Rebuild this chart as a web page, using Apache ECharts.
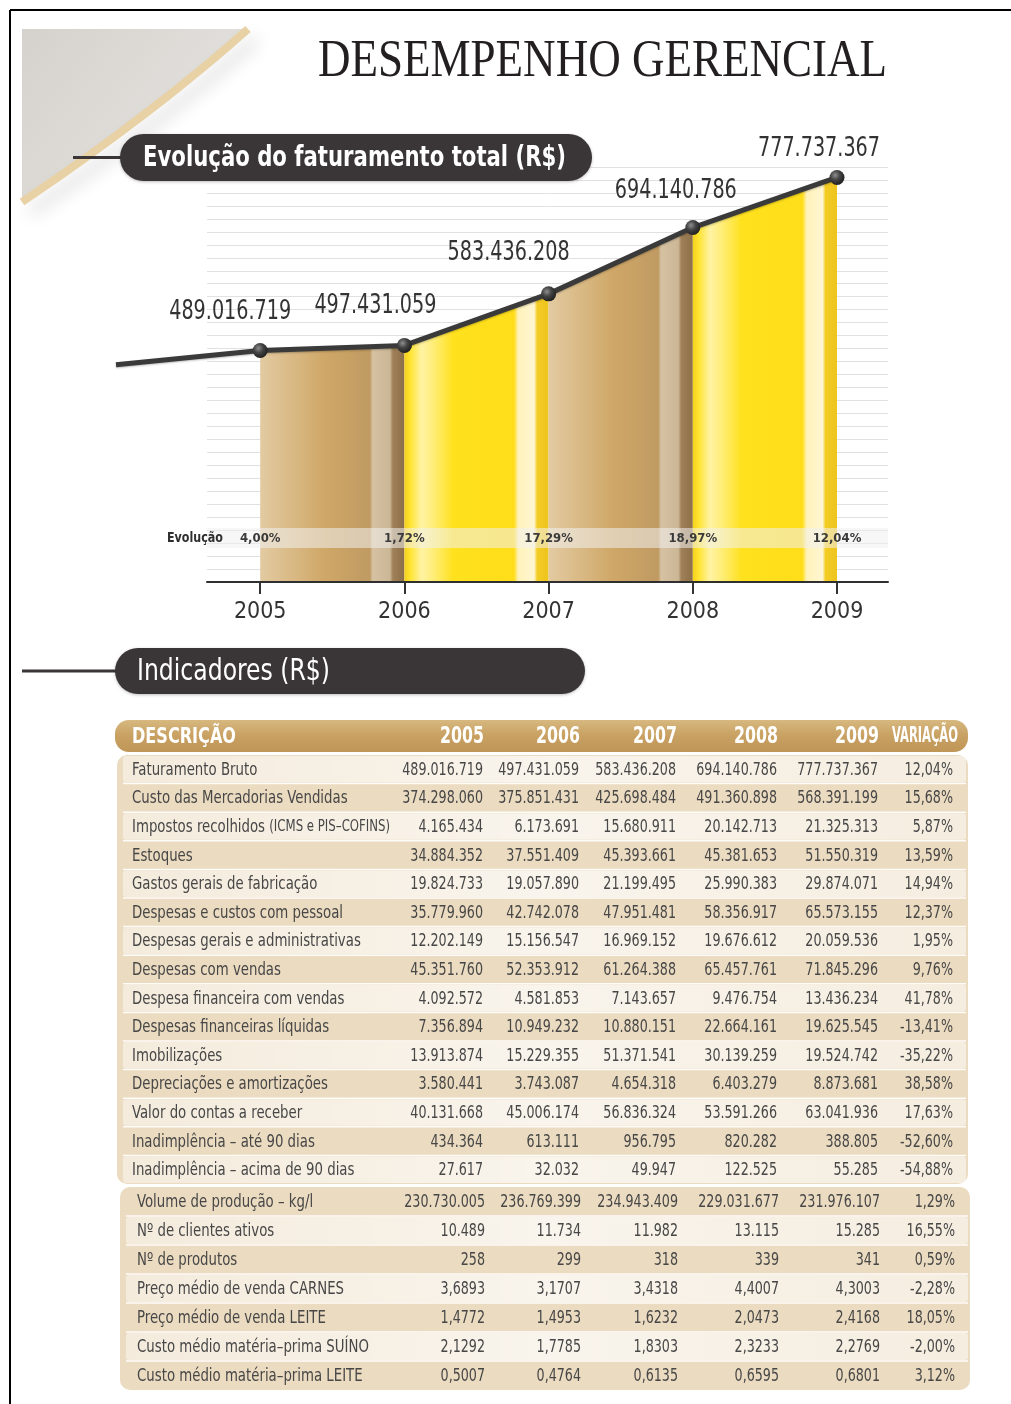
<!DOCTYPE html>
<html>
<head>
<meta charset="utf-8">
<title>Desempenho Gerencial</title>
<script src="https://cdn.jsdelivr.net/npm/echarts@6/dist/echarts.min.js"></script>
<style>
html, body { margin: 0; padding: 0; background: #fff; }
#main { width: 1011px; height: 1404px; }
</style>
</head>
<body>
<div id="main"></div>
<script>
// ---- chart data ----
var years = ['2005', '2006', '2007', '2008', '2009'];
var revenue = [489016719, 497431059, 583436208, 694140786, 777737367];
var revenueLeadIn = 465000000; // the line enters from the left at about this level
var growth = ['4,00%', '1,72%', '17,29%', '18,97%', '12,04%'];

// ---- table data ----
var rowLabels = [
    'Faturamento Bruto',
    'Custo das Mercadorias Vendidas',
    'Impostos recolhidos (ICMS e PIS–COFINS)',
    'Estoques',
    'Gastos gerais de fabricação',
    'Despesas e custos com pessoal',
    'Despesas gerais e administrativas',
    'Despesas com vendas',
    'Despesa financeira com vendas',
    'Despesas financeiras líquidas',
    'Imobilizações',
    'Depreciações e amortizações',
    'Valor do contas a receber',
    'Inadimplência – até 90 dias',
    'Inadimplência – acima de 90 dias',
    'Volume de produção – kg/l',
    'Nº de clientes ativos',
    'Nº de produtos',
    'Preço médio de venda CARNES',
    'Preço médio de venda LEITE',
    'Custo médio matéria–prima SUÍNO',
    'Custo médio matéria–prima LEITE'
];
var col2005 = ['489.016.719', '374.298.060', '4.165.434', '34.884.352', '19.824.733', '35.779.960', '12.202.149', '45.351.760', '4.092.572', '7.356.894', '13.913.874', '3.580.441', '40.131.668', '434.364', '27.617', '230.730.005', '10.489', '258', '3,6893', '1,4772', '2,1292', '0,5007'];
var col2006 = ['497.431.059', '375.851.431', '6.173.691', '37.551.409', '19.057.890', '42.742.078', '15.156.547', '52.353.912', '4.581.853', '10.949.232', '15.229.355', '3.743.087', '45.006.174', '613.111', '32.032', '236.769.399', '11.734', '299', '3,1707', '1,4953', '1,7785', '0,4764'];
var col2007 = ['583.436.208', '425.698.484', '15.680.911', '45.393.661', '21.199.495', '47.951.481', '16.969.152', '61.264.388', '7.143.657', '10.880.151', '51.371.541', '4.654.318', '56.836.324', '956.795', '49.947', '234.943.409', '11.982', '318', '3,4318', '1,6232', '1,8303', '0,6135'];
var col2008 = ['694.140.786', '491.360.898', '20.142.713', '45.381.653', '25.990.383', '58.356.917', '19.676.612', '65.457.761', '9.476.754', '22.664.161', '30.139.259', '6.403.279', '53.591.266', '820.282', '122.525', '229.031.677', '13.115', '339', '4,4007', '2,0473', '2,3233', '0,6595'];
var col2009 = ['777.737.367', '568.391.199', '21.325.313', '51.550.319', '29.874.071', '65.573.155', '20.059.536', '71.845.296', '13.436.234', '19.625.545', '19.524.742', '8.873.681', '63.041.936', '388.805', '55.285', '231.976.107', '15.285', '341', '4,3003', '2,4168', '2,2769', '0,6801'];
var colVar = ['12,04%', '15,68%', '5,87%', '13,59%', '14,94%', '12,37%', '1,95%', '9,76%', '41,78%', '-13,41%', '-35,22%', '38,58%', '17,63%', '-52,60%', '-54,88%', '1,29%', '16,55%', '0,59%', '-2,28%', '18,05%', '-2,00%', '3,12%'];
var firstBlockRows = 15;

var NARROW = "'Liberation Sans Narrow', 'DejaVu Sans Condensed', sans-serif";
var SERIF = "'Liberation Serif', 'DejaVu Serif', serif";
var INK = '#333';

function fmt(n) {
    return String(n).replace(/\B(?=(\d{3})+(?!\d))/g, '.');
}

var measureCtx = document.createElement('canvas').getContext('2d');
function squeeze(text, font, target) {
    measureCtx.font = font;
    return target / measureCtx.measureText(text).width;
}

function quadPoints(p0, c, p1, n) {
    var pts = [];
    for (var i = 0; i <= n; i++) {
        var t = i / n, u = 1 - t;
        pts.push([u * u * p0[0] + 2 * u * t * c[0] + t * t * p1[0],
                  u * u * p0[1] + 2 * u * t * c[1] + t * t * p1[1]]);
    }
    return pts;
}

var myChart = echarts.init(document.getElementById('main'));

var cats = [''].concat(years);

// gradients for the columns under the line
var tanFill = {
    type: 'linear', x: 0, y: 0, x2: 1, y2: 0,
    colorStops: [
        {offset: 0, color: '#e3caa2'}, {offset: 0.15, color: '#dcbf8e'},
        {offset: 0.45, color: '#cfa767'}, {offset: 0.76, color: '#bf9a62'},
        {offset: 0.78, color: '#d6c2a2'}, {offset: 0.9, color: '#cbb696'},
        {offset: 0.92, color: '#a08057'}, {offset: 1, color: '#8c6f49'}
    ]
};
var yellowFill = {
    type: 'linear', x: 0, y: 0, x2: 1, y2: 0,
    colorStops: [
        {offset: 0, color: '#f4d01c'}, {offset: 0.04, color: '#ffe430'},
        {offset: 0.12, color: '#fff3a4'}, {offset: 0.22, color: '#ffec6c'},
        {offset: 0.34, color: '#ffe11e'}, {offset: 0.76, color: '#ffdd1b'},
        {offset: 0.79, color: '#fff2ba'}, {offset: 0.9, color: '#fff6d2'},
        {offset: 0.92, color: '#f3cc24'}, {offset: 1, color: '#eec41e'}
    ]
};

var series = [];
for (var k = 0; k < years.length - 1; k++) {
    var d = cats.map(function () { return '-'; });
    d[k + 1] = revenue[k];
    d[k + 2] = revenue[k + 1];
    series.push({
        type: 'line', data: d, symbol: 'none', silent: true, z: 2,
        lineStyle: {width: 0},
        areaStyle: {color: k % 2 === 0 ? tanFill : yellowFill, opacity: 1}
    });
}

var lineData = [{value: revenueLeadIn, symbol: 'none'}].concat(revenue);
var lineIndex = series.length;
series.push({
    type: 'line',
    data: lineData,
    z: 4,
    symbol: 'circle',
    symbolSize: 15,
    itemStyle: {
        color: {
            type: 'radial', x: 0.38, y: 0.35, r: 0.7,
            colorStops: [{offset: 0, color: '#8e8e8e'}, {offset: 0.45, color: '#444'}, {offset: 1, color: '#1c1c1c'}]
        }
    },
    lineStyle: {color: '#3a3a3a', width: 5, shadowColor: 'rgba(0,0,0,0.25)', shadowBlur: 2, shadowOffsetY: 1},
    emphasis: {disabled: true}
});

var option = {
    animation: false,
    backgroundColor: '#fff',
    grid: [
        {left: 116, right: 174, top: 167, bottom: 822},
        {left: 207, right: 123, top: 167, bottom: 822}
    ],
    xAxis: [
        {
            type: 'category', gridIndex: 0, data: cats, boundaryGap: false,
            axisLine: {show: false},
            splitLine: {show: false},
            axisTick: {show: true, length: 12, interval: function (i) { return i > 0; }, lineStyle: {color: INK, width: 2}},
            axisLabel: {interval: 0, margin: 19, fontFamily: NARROW, fontSize: 23, color: INK}
        },
        {
            type: 'category', gridIndex: 0, data: [''].concat(growth), boundaryGap: false,
            position: 'bottom', offset: -53, z: 20,
            axisLine: {show: false}, axisTick: {show: false}, splitLine: {show: false},
            axisLabel: {interval: 0, margin: 3, fontFamily: NARROW, fontWeight: 'bold', fontSize: 13, color: '#3a3a3a'}
        },
        {
            type: 'value', gridIndex: 1, min: 0, max: 1, z: 5,
            axisLine: {show: true, lineStyle: {color: '#2f2f2f', width: 2}},
            axisTick: {show: false}, axisLabel: {show: false}, splitLine: {show: false}
        }
    ],
    yAxis: [
        {type: 'value', gridIndex: 0, min: 102500000, max: 795200000, show: false},
        {
            type: 'value', gridIndex: 1, min: 0, max: 32, interval: 1,
            axisLine: {show: false}, axisTick: {show: false}, axisLabel: {show: false},
            splitLine: {show: true, lineStyle: {color: '#e1e1e1', width: 1}}
        }
    ],
    series: series
};
myChart.setOption(option);

// ---- graphic parts: frame, titles, value labels, table ----
var g = [];

g.push({type: 'line', z: 30, shape: {x1: 10, y1: 10, x2: 1011, y2: 10}, style: {stroke: '#000', lineWidth: 2}});
g.push({type: 'line', z: 30, shape: {x1: 10, y1: 10, x2: 10, y2: 1404}, style: {stroke: '#000', lineWidth: 2}});

var curve = quadPoints([248, 29], [155, 112], [22, 202], 30);
g.push({
    type: 'polygon', z: 1,
    shape: {points: [[22, 29]].concat(curve)},
    style: {fill: {type: 'linear', x: 0, y: 0, x2: 1, y2: 1,
        colorStops: [{offset: 0, color: '#d5d2cd'}, {offset: 1, color: '#e8e6e3'}]}}
});
g.push({
    type: 'polyline', z: 2,
    shape: {points: curve},
    style: {stroke: '#e8d1a4', lineWidth: 8, fill: null,
        shadowColor: 'rgba(0,0,0,0.16)', shadowBlur: 18, shadowOffsetX: 8, shadowOffsetY: 10}
});

var titleFont = '52px ' + SERIF;
g.push({
    type: 'text', z: 10, x: 318, y: 62,
    scaleX: squeeze('DESEMPENHO GERENCIAL', titleFont, 569),
    style: {text: 'DESEMPENHO GERENCIAL', font: titleFont, fill: '#231f20', textAlign: 'left', textVerticalAlign: 'middle'}
});

function pill(x, y, w, h, lineFrom, text, font, textX, textW) {
    g.push({type: 'line', z: 10, shape: {x1: lineFrom, y1: y + h / 2, x2: x + 2, y2: y + h / 2},
        style: {stroke: '#3a3536', lineWidth: 3}});
    g.push({type: 'rect', z: 10, shape: {x: x, y: y, width: w, height: h, r: h / 2},
        style: {fill: '#3a3536', shadowColor: 'rgba(0,0,0,0.25)', shadowBlur: 3, shadowOffsetY: 1}});
    g.push({type: 'text', z: 11, x: textX, y: y + h / 2 + 1, scaleX: squeeze(text, font, textW),
        style: {text: text, font: font, fill: '#fff', textAlign: 'left', textVerticalAlign: 'middle'}});
}
pill(120, 134, 472, 47, 73, 'Evolução do faturamento total (R$)', 'bold 29px ' + NARROW, 143, 423);
pill(115, 648, 470, 46, 22, 'Indicadores (R$)', '30px ' + NARROW, 137, 193);

// value labels placed at the line points through the chart's own scales
var labelOffsets = [[-30, -38], [-29, -39], [-40, -41], [-17, -37], [-18, -28]];
var valueFont = '27px ' + NARROW;
revenue.forEach(function (v, i) {
    var p = myChart.convertToPixel({seriesIndex: lineIndex}, [i + 1, v]);
    g.push({type: 'text', z: 12, x: p[0] + labelOffsets[i][0], y: p[1] + labelOffsets[i][1],
        scaleX: squeeze(fmt(v), valueFont, 122),
        style: {text: fmt(v), font: valueFont, fill: INK, textAlign: 'center', textVerticalAlign: 'middle'}});
});

// evolution band across the columns
g.push({type: 'rect', z: 10, shape: {x: 207, y: 528, width: 681, height: 20},
    style: {fill: 'rgba(240,240,240,0.55)'}});
var evoFont = 'bold 14px ' + NARROW;
g.push({type: 'text', z: 11, x: 167, y: 538, scaleX: squeeze('Evolução', evoFont, 56),
    style: {text: 'Evolução', font: evoFont, fill: '#2f2f2f', textAlign: 'left', textVerticalAlign: 'middle'}});

// table
var colRights = [483, 579, 676, 777, 878, 953];
var columns = [col2005, col2006, col2007, col2008, col2009, colVar];

g.push({type: 'rect', z: 10, shape: {x: 115, y: 720, width: 853, height: 32, r: 14},
    style: {fill: {type: 'linear', x: 0, y: 0, x2: 0, y2: 1,
        colorStops: [{offset: 0, color: '#d7b87f'}, {offset: 0.5, color: '#c8a062'}, {offset: 1, color: '#bf9656'}]}}});
var hFont = 'bold 22px ' + NARROW;
g.push({type: 'text', z: 11, x: 132, y: 737, scaleX: squeeze('DESCRIÇÃO', hFont, 104),
    style: {text: 'DESCRIÇÃO', font: hFont, fill: '#fff', textAlign: 'left', textVerticalAlign: 'middle'}});
var yFont = 'bold 23px ' + NARROW;
years.forEach(function (y, i) {
    g.push({type: 'text', z: 11, x: colRights[i] + 1, y: 737, scaleX: squeeze(y, yFont, 44),
        style: {text: y, font: yFont, fill: '#fff', textAlign: 'right', textVerticalAlign: 'middle'}});
});
var vFont = 'bold 21px ' + NARROW;
g.push({type: 'text', z: 11, x: 892, y: 737, scaleX: squeeze('VARIAÇÃO', vFont, 66),
    style: {text: 'VARIAÇÃO', font: vFont, fill: '#fff', textAlign: 'left', textVerticalAlign: 'middle'}});

var cellFont = '17px ' + NARROW;
var cellInk = '#474747';
function block(x, y, w, h, rows, startRow, lightFirst, shift) {
    var rh = h / rows;
    g.push({type: 'rect', z: 10, shape: {x: x, y: y, width: w, height: h, r: 10}, style: {fill: '#ebdbc0'}});
    for (var i = 0; i < rows; i++) {
        var top = y + i * rh;
        var light = (i % 2 === 0) === lightFirst;
        if (light) {
            g.push({type: 'rect', z: 10, shape: {x: x + 6, y: top + 1, width: w - 8, height: rh - 2, r: 3},
                style: {fill: {type: 'linear', x: 0, y: 0, x2: 1, y2: 0,
                    colorStops: [{offset: 0, color: 'rgba(255,255,255,0.45)'}, {offset: 0.5, color: 'rgba(255,255,255,0.7)'},
                        {offset: 1, color: 'rgba(255,255,255,0.5)'}]}}});
        }
        if (i > 0) {
            g.push({type: 'line', z: 10, shape: {x1: x + 6, y1: top, x2: x + w - 2, y2: top},
                style: {stroke: 'rgba(255,255,255,0.9)', lineWidth: 1.5}});
        }
        var r = startRow + i;
        var lbl = rowLabels[r];
        var paren = lbl.indexOf('(');
        var txt = paren > 0 ? '{a|' + lbl.slice(0, paren) + '}{b|' + lbl.slice(paren) + '}' : lbl;
        g.push({type: 'text', z: 11, x: x + 15 + shift, y: top + rh / 2 + 1, scaleX: 0.87,
            style: {text: txt, font: cellFont, fill: cellInk, textAlign: 'left', textVerticalAlign: 'middle',
                rich: {a: {fontFamily: NARROW, fontSize: 17, fill: cellInk}, b: {fontFamily: NARROW, fontSize: 15, fill: cellInk}}}});
        columns.forEach(function (col, c) {
            g.push({type: 'text', z: 11, x: colRights[c] + shift, y: top + rh / 2 + 1, scaleX: 0.83,
                style: {text: col[r], font: cellFont, fill: cellInk, textAlign: 'right', textVerticalAlign: 'middle'}});
        });
    }
}
block(117, 755, 851, 429, firstBlockRows, 0, true, 0);
block(120, 1187, 850, 203, rowLabels.length - firstBlockRows, firstBlockRows, false, 2);

myChart.setOption({graphic: g});
</script>
</body>
</html>
